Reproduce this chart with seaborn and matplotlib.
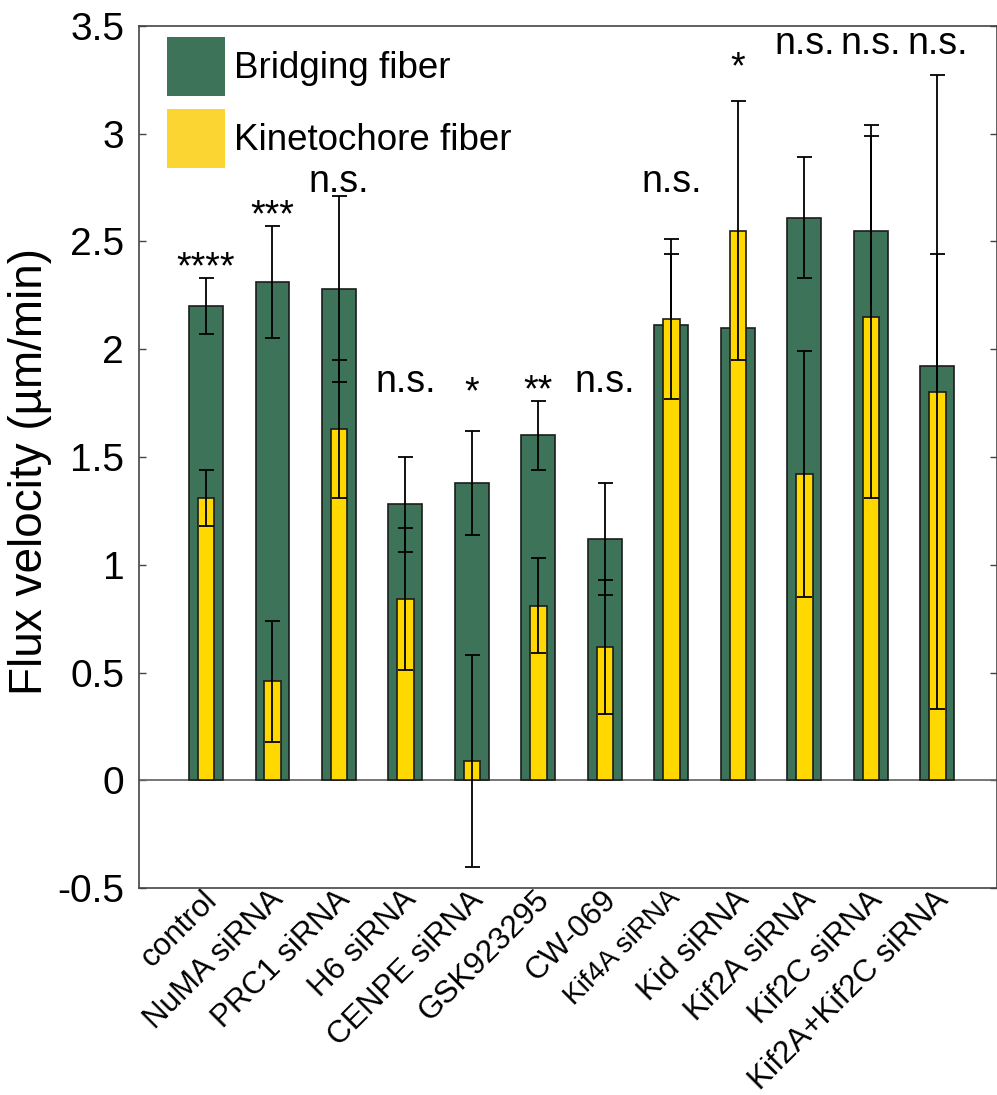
import matplotlib
matplotlib.use("Agg")
import matplotlib.pyplot as plt
from matplotlib.patches import Patch
from matplotlib.transforms import ScaledTranslation
import numpy as np
import seaborn as sns

conditions = ["control", "NuMA siRNA", "PRC1 siRNA", "H6 siRNA", "CENPE siRNA",
              "GSK923295", "CW-069", "Kif4A siRNA", "Kid siRNA", "Kif2A siRNA",
              "Kif2C siRNA", "Kif2A+Kif2C siRNA"]
bridging = [2.20, 2.31, 2.28, 1.28, 1.38, 1.60, 1.12, 2.11, 2.10, 2.61, 2.55, 1.92]
bridging_err = [0.13, 0.26, 0.43, 0.22, 0.24, 0.16, 0.26, 0.33, 0.30, 0.28, 0.49, 0.52]
kfiber = [1.31, 0.46, 1.63, 0.84, 0.09, 0.81, 0.62, 2.14, 2.55, 1.42, 2.15, 1.80]
kfiber_err = [0.13, 0.28, 0.32, 0.33, 0.49, 0.22, 0.31, 0.37, 0.60, 0.57, 0.84, 1.47]
sig_labels = ["****", "***", "n.s.", "n.s.", "*", "**", "n.s.", "n.s.", "*",
              "n.s.", "n.s.", "n.s."]
sig_y = [2.33, 2.57, 2.73, 1.80, 1.75, 1.76, 1.80, 2.73, 3.255, 3.37, 3.37, 3.37]

GREEN = "#3d7358"
YELLOW = "#ffd800"
EDGE = "#1c1c1c"

sns.set_style("ticks")
plt.rcParams["font.family"] = ["Liberation Sans", "DejaVu Sans"]
plt.rcParams["text.color"] = "black"
plt.rcParams["axes.labelcolor"] = "black"

fig = plt.figure(figsize=(9.97, 10.95), dpi=100)
ax = fig.add_axes([0.1399, 0.1888, 0.8596, 0.7877])

x = np.arange(len(conditions))

sns.barplot(x=conditions, y=bridging, color=GREEN, width=0.51, saturation=1,
            edgecolor=EDGE, linewidth=1.2, errorbar=None, ax=ax, zorder=2)
ax.errorbar(x, bridging, yerr=bridging_err, fmt="none", ecolor="black",
            elinewidth=1.3, capsize=5.4, capthick=1.3, zorder=3)
n_green = len(ax.patches)
sns.barplot(x=conditions, y=kfiber, color=YELLOW, width=0.25, saturation=1,
            edgecolor=EDGE, linewidth=1.2, errorbar=None, ax=ax)
for p in ax.patches[n_green:]:
    p.set_zorder(4)
ax.errorbar(x, kfiber, yerr=kfiber_err, fmt="none", ecolor="black",
            elinewidth=1.3, capsize=5.4, capthick=1.3, zorder=5)

ax.axhline(0, color="#6b6b6b", lw=1.3, zorder=1)

for xi, lab, yy in zip(x, sig_labels, sig_y):
    ax.text(xi, yy, lab, ha="center", va="baseline", fontsize=27, color="black")

ax.set_xlim(-1.0, 11.89)
ax.set_ylim(-0.5, 3.5)
ax.set_yticks(np.arange(-0.5, 3.51, 0.5))
ax.set_yticklabels(["-0.5", "0", "0.5", "1", "1.5", "2", "2.5", "3", "3.5"])
ax.tick_params(axis="y", direction="in", length=5, width=1, color="#444444",
               labelcolor="black", right=True, labelsize=28, pad=11)

# labels at every bar, tick marks only at every second bar
ax.set_xticks(x)
ax.set_xticklabels(conditions)
ax.set_xticks(x[1::2], minor=True)
ax.tick_params(axis="x", which="major", length=0, pad=-2.5, labelcolor="black")
ax.tick_params(axis="x", which="minor", direction="in", length=5, width=1,
               color="#444444", top=True, bottom=True)
offset = ScaledTranslation(-4 / 100, 0, fig.dpi_scale_trans)
for lab in ax.get_xticklabels():
    lab.set_rotation(45)
    lab.set_ha("right")
    lab.set_va("top")
    lab.set_rotation_mode("anchor")
    lab.set_fontsize(20 if lab.get_text() == "Kif4A siRNA" else 22.6)
    lab.set_transform(lab.get_transform() + offset)

for s in ax.spines.values():
    s.set_visible(True)
    s.set_color("#444444")
    s.set_linewidth(1.2)

ax.set_ylabel("Flux velocity (µm/min)", fontsize=33)
ax.yaxis.set_label_coords(-0.102, 0.483)

handles = [Patch(facecolor=GREEN, edgecolor="none", label="Bridging fiber"),
           Patch(facecolor="#fbd633", edgecolor="none", label="Kinetochore fiber")]
ax.legend(handles=handles, loc="upper left",
          bbox_to_anchor=((167 - 139.5) / 857, 1 - (37 - 25.7) / 862.6),
          frameon=False, fontsize=26.5, handlelength=1.57, handleheight=2.1,
          handletextpad=0.25, labelspacing=0.35, borderpad=0, borderaxespad=0)

fig.savefig("out.png", dpi=100)
